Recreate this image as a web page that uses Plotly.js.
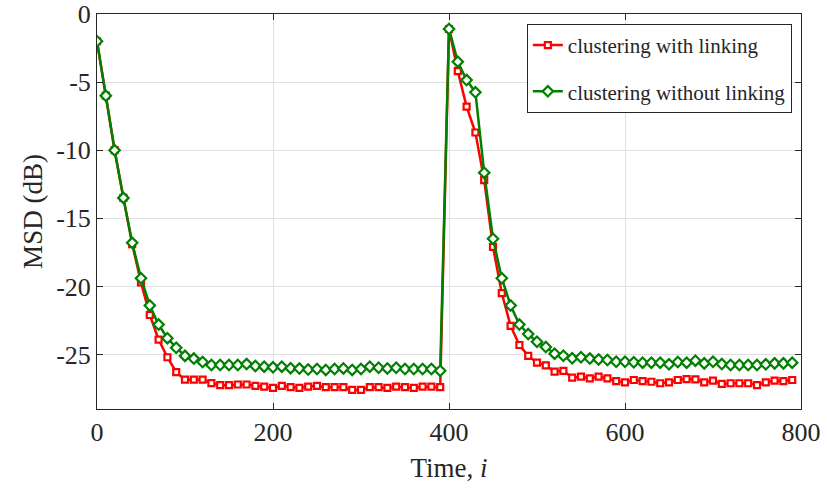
<!DOCTYPE html>
<html>
<head>
<meta charset="utf-8">
<script src="https://cdn.plot.ly/plotly-3.0.1.min.js"></script>
<style>html,body{margin:0;padding:0;background:#fff;}#chart{width:827px;height:489px;}</style>
</head>
<body>
<div id="chart"></div>
<script>
// Time index (two phases, sampled every 10 iterations)
const timeA = [0,10,20,30,40,50,60,70,80,90,100,110,120,130,140,150,160,170,180,190,200,210,220,230,240,250,260,270,280,290,300,310,320,330,340,350,360,370,380,390];
const timeB = [400,410,420,430,440,450,460,470,480,490,500,510,520,530,540,550,560,570,580,590,600,610,620,630,640,650,660,670,680,690,700,710,720,730,740,750,760,770,780,790];

// MSD (dB), clustering with linking
const withLinkingA = [-2.0,-6.0,-10.0,-13.5,-16.9,-19.7,-22.1,-23.9,-25.2,-26.3,-26.85,-26.85,-26.85,-27.1,-27.25,-27.25,-27.2,-27.2,-27.3,-27.36,-27.45,-27.3,-27.4,-27.45,-27.35,-27.3,-27.4,-27.4,-27.4,-27.6,-27.6,-27.4,-27.4,-27.45,-27.36,-27.4,-27.45,-27.36,-27.36,-27.4];
const withLinkingB = [-1.1,-4.2,-6.8,-8.7,-12.2,-17.1,-20.5,-22.9,-24.3,-25.1,-25.6,-25.8,-26.25,-26.2,-26.7,-26.63,-26.75,-26.63,-26.75,-26.95,-27.05,-26.87,-26.95,-27.0,-27.11,-27.04,-26.87,-26.8,-26.82,-27.04,-26.92,-27.16,-27.11,-27.11,-27.11,-27.24,-27.04,-26.92,-26.95,-26.87];

// MSD (dB), clustering without linking
const withoutLinkingA = [-2.0,-6.0,-10.0,-13.5,-16.8,-19.4,-21.4,-22.8,-23.8,-24.5,-25.1,-25.3,-25.55,-25.77,-25.77,-25.77,-25.77,-25.7,-25.84,-25.89,-25.94,-25.89,-26.0,-26.03,-26.1,-26.06,-26.13,-26.06,-26.02,-26.13,-26.06,-25.89,-25.97,-26.02,-25.97,-26.06,-26.06,-26.06,-26.06,-26.19];
const withoutLinkingB = [-1.1,-3.5,-4.85,-5.75,-11.65,-16.5,-19.4,-21.4,-22.8,-23.5,-24.06,-24.45,-24.94,-25.09,-25.28,-25.2,-25.3,-25.36,-25.4,-25.53,-25.53,-25.57,-25.6,-25.6,-25.6,-25.72,-25.55,-25.6,-25.45,-25.65,-25.53,-25.7,-25.77,-25.77,-25.77,-25.77,-25.72,-25.65,-25.65,-25.6];

const seriesNames = ['clustering with linking', 'clustering without linking'];
const xTicks = [0,200,400,600,800];
const yTicks = [0,-5,-10,-15,-20,-25];

const time = timeA.concat(timeB);
const red = withLinkingA.concat(withLinkingB);
const green = withoutLinkingA.concat(withoutLinkingB);

const FONT = '"Liberation Serif", "Times New Roman", serif';
const TXT = '#262626';

const traces = [
  {
    x: time, y: red, name: seriesNames[0], type: 'scatter', mode: 'lines+markers',
    legendgroup: 'a',
    line: {color: '#ff0000', width: 2.5},
    marker: {symbol: 'square', size: 6, color: '#ffffff', line: {color: '#ff0000', width: 2.2}}
  },
  {
    x: time, y: green, name: seriesNames[1], type: 'scatter', mode: 'lines+markers',
    legendgroup: 'b',
    line: {color: '#008000', width: 2.5},
    marker: {symbol: 'diamond', size: 8, color: '#ffffff', line: {color: '#008000', width: 2.2}}
  }
];

const axisCommon = {
  showline: true, linecolor: TXT, linewidth: 1, mirror: 'ticks',
  ticks: 'inside', ticklen: 6, tickcolor: TXT, tickwidth: 1,
  showgrid: true, gridcolor: '#dfdfdf', gridwidth: 1,
  zeroline: false,
  tickfont: {family: FONT, size: 26, color: TXT}
};

const layout = {
  width: 827, height: 489,
  margin: {l: 97, r: 26, t: 14, b: 80, pad: 0},
  paper_bgcolor: '#ffffff', plot_bgcolor: '#ffffff',
  showlegend: true,
  legend: {
    x: 0.987, xanchor: 'right', y: 0.975, yanchor: 'top',
    bgcolor: '#ffffff', bordercolor: TXT, borderwidth: 1,
    font: {family: FONT, size: 21, color: TXT},
    traceorder: 'grouped', tracegroupgap: 16, itemwidth: 30,
    entrywidth: 290, entrywidthmode: 'pixels'
  },
  xaxis: Object.assign({}, axisCommon, {
    range: [0, 800], tickvals: xTicks, ticktext: xTicks.map(String),
    title: {text: 'Time, <i>i</i>', font: {family: FONT, size: 27, color: TXT}, standoff: 11}
  }),
  yaxis: Object.assign({}, axisCommon, {
    range: [-29, 0], tickvals: yTicks, ticktext: yTicks.map(String),
    title: {text: 'MSD (dB)', font: {family: FONT, size: 27, color: TXT}, standoff: 5}
  })
};

Plotly.newPlot('chart', traces, layout, {displayModeBar: false, staticPlot: true});
</script>
</body>
</html>
